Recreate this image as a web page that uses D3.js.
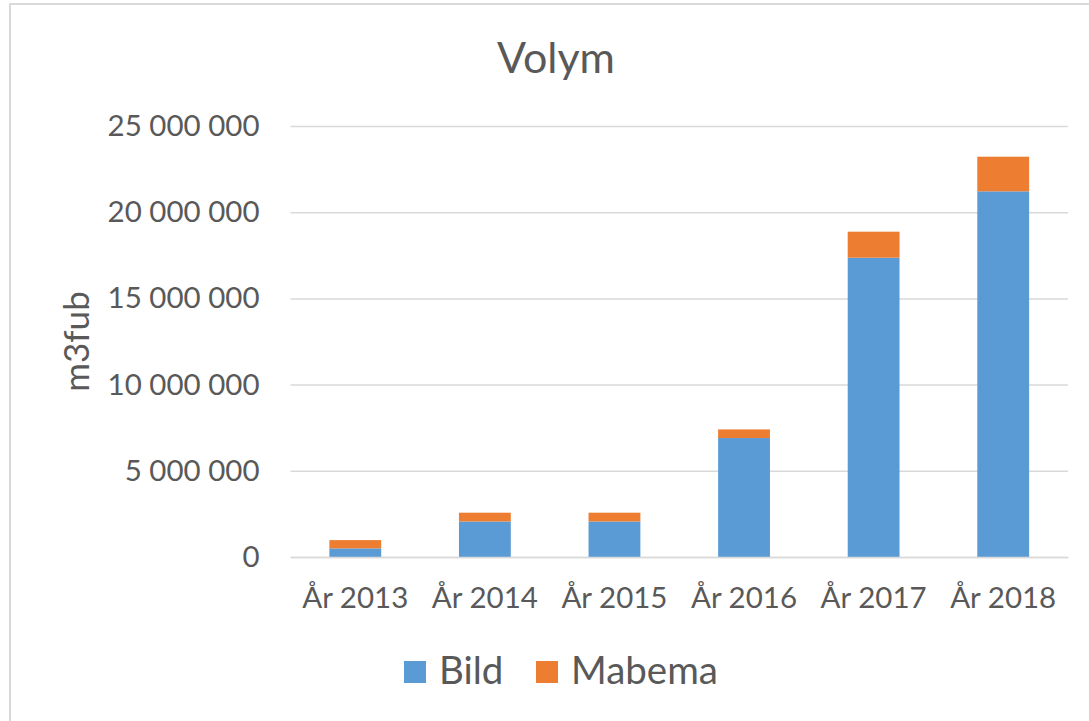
<!DOCTYPE html>
<html>
<head>
<meta charset="utf-8">
<script src="https://cdn.jsdelivr.net/npm/d3@7"></script>
<style>
  body { margin: 0; background: #fff; }
  text { font-family: Lato, "Open Sans", sans-serif; fill: #595959; }
</style>
</head>
<body>
<svg id="chart" width="1089" height="721"></svg>
<script>
// data
const years = ["År 2013", "År 2014", "År 2015", "År 2016", "År 2017", "År 2018"],
    bild = [500000, 2060000, 2060000, 6900000, 17360000, 21210000],
    mabema = [480000, 510000, 510000, 500000, 1510000, 2010000],
    seriesNames = ["Bild", "Mabema"],
    yTicks = [0, 5000000, 10000000, 15000000, 20000000, 25000000];

const colors = {"Bild": "#5b9bd5", "Mabema": "#ed7d31"};

const rows = years.map(function(y, i) {
  return {"year": y, "Bild": bild[i], "Mabema": mabema[i]};
});

const svg = d3.select("#chart"),
    width = +svg.attr("width"),
    height = +svg.attr("height"),
    plot = {"left": 290.5, "right": 1068, "top": 126, "bottom": 557};

// chart area border (cropped on right and bottom)
svg.append("path")
    .attr("d", "M10," + height + "V4H" + width)
    .attr("fill", "none")
    .attr("stroke", "#d9d9d9")
    .attr("stroke-width", 2);

const x = d3.scaleBand()
    .domain(years)
    .range([plot.left, plot.right])
    .paddingInner(0.6)
    .paddingOuter(0.3);

const y = d3.scaleLinear()
    .domain([0, 25000000])
    .range([plot.bottom, plot.top]);

const fmt = function(d) { return d3.format(",")(d).replace(/,/g, " "); };

// gridlines + y labels
const yAxis = svg.append("g")
    .attr("transform", "translate(" + plot.left + ",0)")
    .call(d3.axisLeft(y).tickValues(yTicks).tickFormat(fmt)
      .tickSize(-(plot.right - plot.left)).tickPadding(31));
yAxis.select(".domain").remove();
yAxis.selectAll(".tick line")
    .attr("stroke", "#d9d9d9")
    .attr("stroke-width", 1.5);
yAxis.selectAll(".tick text")
    .attr("fill", "#595959")
    .style("font-size", "29.5px")
    .style("font-family", "Lato, sans-serif");

// bars
const stack = d3.stack().keys(seriesNames)(rows);

svg.append("g")
  .selectAll("g")
    .data(stack)
  .enter().append("g")
    .attr("fill", function(d) { return colors[d.key]; })
  .selectAll("rect")
    .data(function(d) { return d; })
  .enter().append("rect")
    .attr("x", function(d) { return x(d.data.year); })
    .attr("width", x.bandwidth())
    .attr("y", function(d) { return y(d[1]); })
    .attr("height", function(d) { return y(d[0]) - y(d[1]); });

// x axis
const xAxis = svg.append("g")
    .attr("transform", "translate(0," + plot.bottom + ")")
    .call(d3.axisBottom(x).tickSize(0).tickPadding(30));
xAxis.select(".domain")
    .attr("stroke", "#d9d9d9")
    .attr("stroke-width", 1.5);
xAxis.selectAll(".tick text")
    .attr("fill", "#595959")
    .style("font-size", "29.5px")
    .style("font-family", "Lato, sans-serif");

// title
svg.append("text")
    .attr("x", 556)
    .attr("y", 73)
    .attr("text-anchor", "middle")
    .style("font-size", "43px")
    .text("Volym");

// y axis title
svg.append("text")
    .attr("transform", "translate(89," + (plot.top + plot.bottom) / 2 + ") rotate(-90)")
    .attr("text-anchor", "middle")
    .style("font-size", "35px")
    .text("m3fub");

// legend
const legend = svg.append("g")
  .selectAll("g")
    .data(seriesNames)
  .enter().append("g")
    .attr("transform", function(d, i) { return "translate(" + [404, 536][i] + ",661)"; });

legend.append("rect")
    .attr("width", 22)
    .attr("height", 22)
    .attr("fill", function(d) { return colors[d]; });

legend.append("text")
    .attr("x", 35)
    .attr("y", 22.5)
    .style("font-size", "38.5px")
    .text(function(d) { return d; });
</script>
</body>
</html>
